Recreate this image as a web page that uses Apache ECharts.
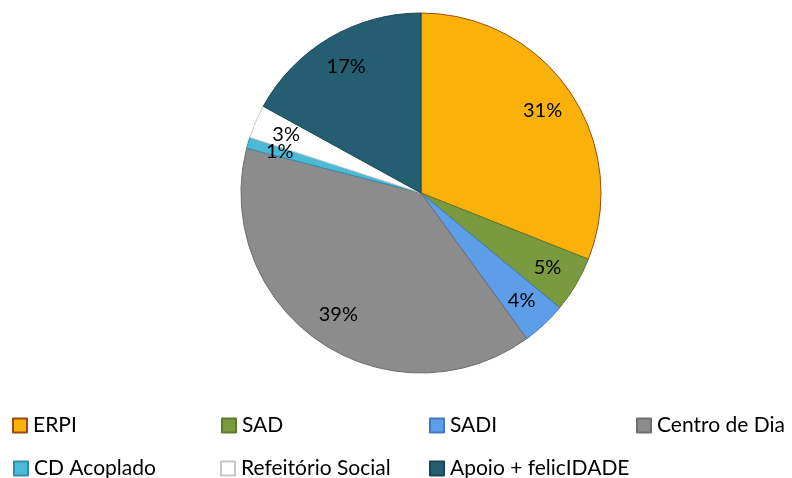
<!DOCTYPE html>
<html>
<head>
<meta charset="utf-8">
<script src="https://cdn.jsdelivr.net/npm/echarts@6/dist/echarts.min.js"></script>
<style>
  html, body { margin: 0; padding: 0; background: #fff; }
  #main { width: 792px; height: 478px; }
</style>
</head>
<body>
<div id="main"></div>
<script>
// valores (percentagens)
var categorias = ['ERPI', 'SAD', 'SADI', 'Centro de Dia', 'CD Acoplado', 'Refeitório Social', 'Apoio + felicIDADE'];
var valores = [31, 5, 4, 39, 1, 3, 17];
var cores = ['#FAB20A', '#7A9A3F', '#5E9DE8', '#8C8C8C', '#4CB9D6', '#FFFFFF', '#245E70'];
var bordas = ['#9C4A10', '#5E7A2C', '#4279C0', '#6E6E6E', '#2F8FAA', '#C8C8C8', '#174654'];
// posicao de cada item da legenda [left, top]
var posLegenda = [[12, 415], [221, 415], [429, 415], [636, 415], [13, 458], [220, 458], [429, 458]];

var chartDom = document.getElementById('main');
var myChart = echarts.init(chartDom, null, { renderer: 'canvas' });

var fonte = 'Lato, "Open Sans", "DejaVu Sans", sans-serif';
var centro = [421, 193];
var raio = 180;

var dadosPie = categorias.map(function (c, i) {
  return {
    name: c,
    value: valores[i],
    itemStyle: { color: cores[i], borderColor: bordas[i], borderWidth: 1 }
  };
});

// serie transparente so para os rotulos (ficam a ~0.8 do raio)
var dadosRotulos = categorias.map(function (c, i) {
  return { name: c, value: valores[i] };
});

// uma legenda por item para alinhar em grelha
var legendas = categorias.map(function (c, i) {
  return {
    left: posLegenda[i][0], top: posLegenda[i][1],
    padding: 0,
    itemWidth: 14, itemHeight: 14, itemGap: 0,
    icon: 'rect',
    selectedMode: false,
    textStyle: { fontFamily: fonte, fontSize: 21, color: '#000', padding: [0, 0, 0, 1] },
    data: [c]
  };
});

var option = {
  animation: false,
  legend: legendas,
  series: [
    {
      type: 'pie',
      center: centro,
      radius: raio,
      startAngle: 90,
      clockwise: true,
      label: { show: false },
      labelLine: { show: false },
      emphasis: { disabled: true },
      data: dadosPie
    },
    {
      type: 'pie',
      center: centro,
      radius: [raio * 0.6, raio],
      startAngle: 90,
      clockwise: true,
      silent: true,
      legendHoverLink: false,
      minShowLabelAngle: 0,
      itemStyle: { color: 'rgba(0,0,0,0)', borderWidth: 0 },
      label: {
        show: true,
        position: 'inside',
        formatter: '{c}%',
        fontFamily: fonte,
        fontSize: 20,
        color: '#000'
      },
      labelLayout: { hideOverlap: false },
      labelLine: { show: false },
      emphasis: { disabled: true },
      data: dadosRotulos
    }
  ]
};

myChart.setOption(option);
</script>
</body>
</html>
